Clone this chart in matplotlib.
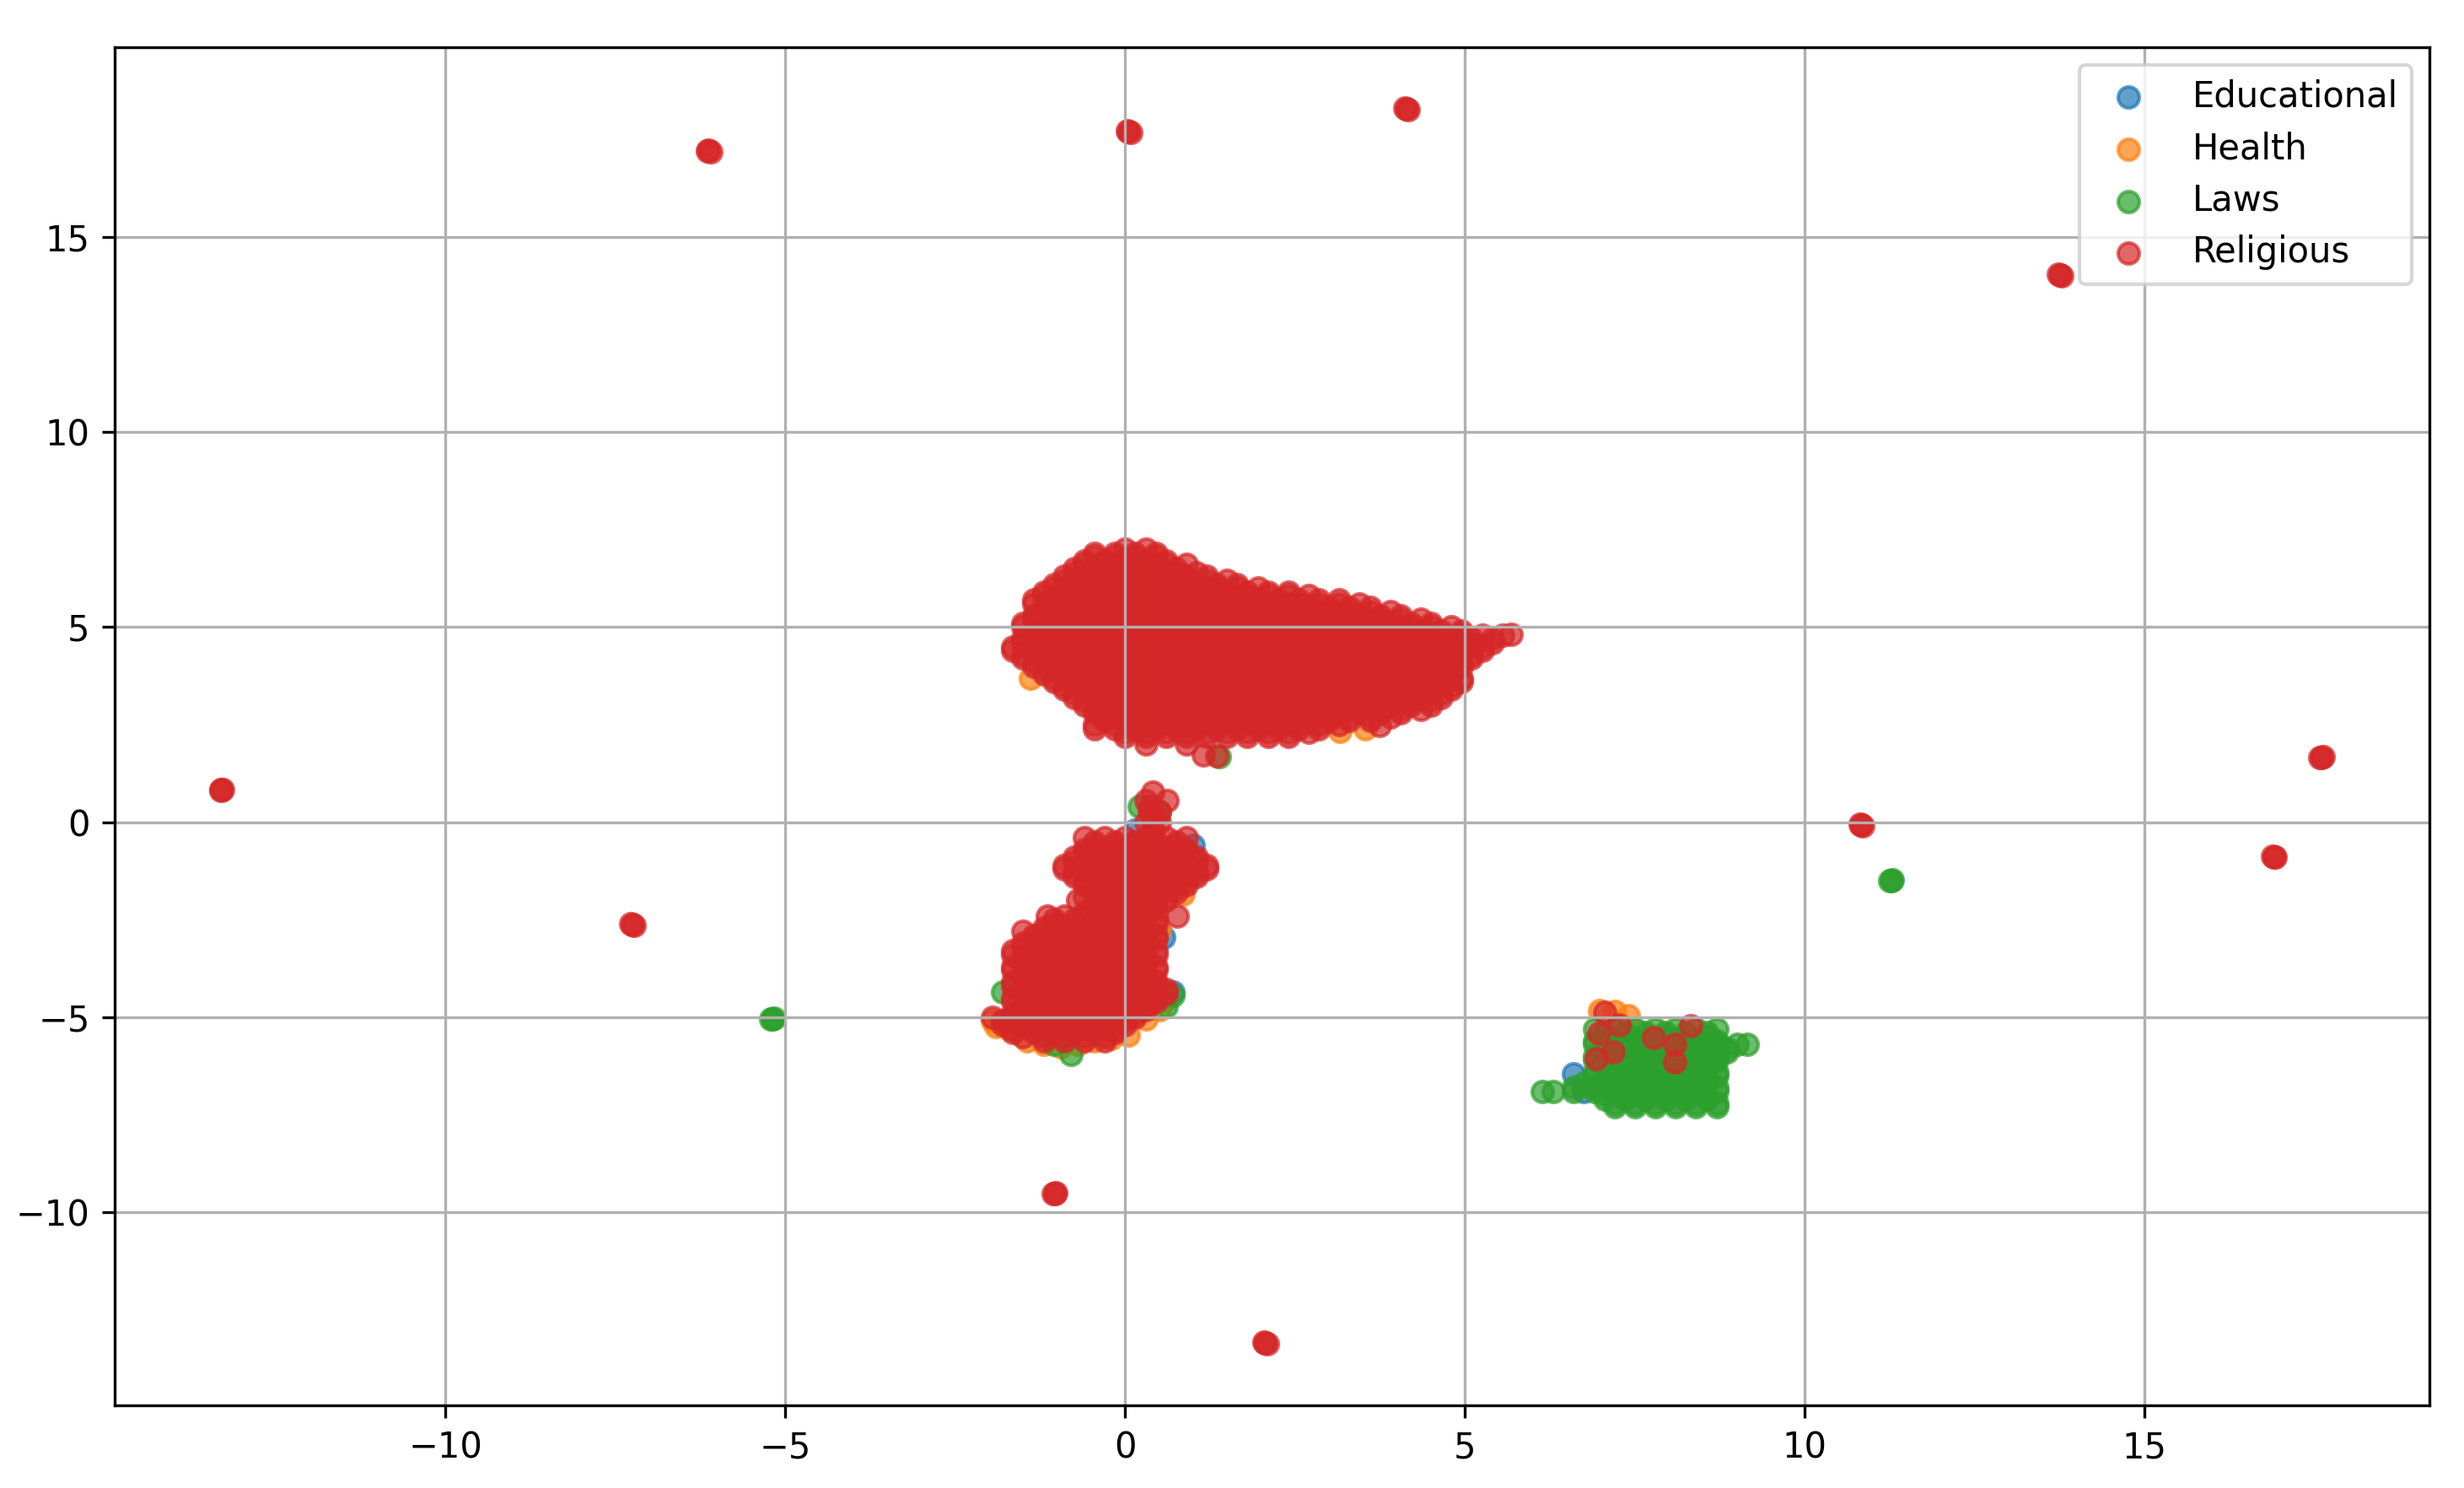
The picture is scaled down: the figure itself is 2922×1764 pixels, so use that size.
import numpy as np
import matplotlib
matplotlib.use("Agg")
import matplotlib.pyplot as plt

categories = ["Educational", "Health", "Laws", "Religious"]
colors = ["#1f77b4", "#ff7f0e", "#2ca02c", "#d62728"]

# ---------------- Religious: main upper cluster (rows: y, x-values) ----------------
religious_main_rows = [
    (7.0, [0.0, 0.3]),
    (6.9, [-0.45, -0.15, 0.15, 0.45]),
    (6.8, [-0.45, -0.15, 0.15, 0.45]),
    (6.7, [-0.6, -0.3, 0.0, 0.3, 0.6]),
    (6.6, [-0.6, -0.3, 0.0, 0.3, 0.6, 0.9]),
    (6.5, [-0.75, -0.45, -0.15, 0.15, 0.45, 0.75]),
    (6.4, [-0.75, -0.45, -0.15, 0.15, 0.45, 0.75, 1.05]),
    (6.3, [-0.9, -0.6, -0.3, 0.0, 0.3, 0.6, 0.9, 1.2]),
    (6.2, [-0.9, -0.6, -0.3, 0.0, 0.3, 0.6, 0.9, 1.2, 1.5]),
    (6.1, [-1.05, -0.75, -0.45, -0.15, 0.15, 0.45, 0.75, 1.05, 1.35, 1.65]),
    (6.0, [-1.05, -0.75, -0.45, -0.15, 0.15, 0.45, 0.75, 1.05, 1.35, 1.65, 1.95]),
    (5.9, [-1.2, -0.9, -0.6, -0.3, 0.0, 0.3, 0.6, 0.9, 1.2, 1.5, 1.8, 2.1, 2.4]),
    (5.8, [-1.2, -0.9, -0.6, -0.3, 0.0, 0.3, 0.6, 0.9, 1.2, 1.5, 1.8, 2.1, 2.4, 2.7]),
    (5.7, [-1.35, -1.05, -0.75, -0.45, -0.15, 0.15, 0.45, 0.75, 1.05, 1.35, 1.65, 1.95,
           2.25, 2.55, 2.85, 3.15]),
    (5.6, [-1.35, -1.05, -0.75, -0.45, -0.15, 0.15, 0.45, 0.75, 1.05, 1.35, 1.65, 1.95,
           2.25, 2.55, 2.85, 3.15, 3.45]),
    (5.5, [-1.2, -0.9, -0.6, -0.3, 0.0, 0.3, 0.6, 0.9, 1.2, 1.5, 1.8, 2.1, 2.4, 2.7,
           3.0, 3.3, 3.6]),
    (5.4, [-1.2, -0.9, -0.6, -0.3, 0.0, 0.3, 0.6, 0.9, 1.2, 1.5, 1.8, 2.1, 2.4, 2.7,
           3.0, 3.3, 3.6, 3.9]),
    (5.3, [-1.35, -1.05, -0.75, -0.45, -0.15, 0.15, 0.45, 0.75, 1.05, 1.35, 1.65, 1.95,
           2.25, 2.55, 2.85, 3.15, 3.45, 3.75, 4.05]),
    (5.2, [-1.35, -1.05, -0.75, -0.45, -0.15, 0.15, 0.45, 0.75, 1.05, 1.35, 1.65, 1.95,
           2.25, 2.55, 2.85, 3.15, 3.45, 3.75, 4.05, 4.35]),
    (5.1, [-1.5, -1.2, -0.9, -0.6, -0.3, 0.0, 0.3, 0.6, 0.9, 1.2, 1.5, 1.8, 2.1, 2.4,
           2.7, 3.0, 3.3, 3.6, 3.9, 4.2, 4.5]),
    (5.0, [-1.5, -1.2, -0.9, -0.6, -0.3, 0.0, 0.3, 0.6, 0.9, 1.2, 1.5, 1.8, 2.1, 2.4,
           2.7, 3.0, 3.3, 3.6, 3.9, 4.2, 4.5, 4.8]),
    (4.9, [-1.35, -1.05, -0.75, -0.45, -0.15, 0.15, 0.45, 0.75, 1.05, 1.35, 1.65, 1.95,
           2.25, 2.55, 2.85, 3.15, 3.45, 3.75, 4.05, 4.35, 4.65, 4.95]),
    (4.8, [-1.35, -1.05, -0.75, -0.45, -0.15, 0.15, 0.45, 0.75, 1.05, 1.35, 1.65, 1.95,
           2.25, 2.55, 2.85, 3.15, 3.45, 3.75, 4.05, 4.35, 4.65, 4.95, 5.25, 5.55]),
    (4.7, [-1.5, -1.2, -0.9, -0.6, -0.3, 0.0, 0.3, 0.6, 0.9, 1.2, 1.5, 1.8, 2.1, 2.4,
           2.7, 3.0, 3.3, 3.6, 3.9, 4.2, 4.5, 4.8, 5.1, 5.4]),
    (4.6, [-1.5, -1.2, -0.9, -0.6, -0.3, 0.0, 0.3, 0.6, 0.9, 1.2, 1.5, 1.8, 2.1, 2.4,
           2.7, 3.0, 3.3, 3.6, 3.9, 4.2, 4.5, 4.8, 5.1, 5.4]),
    (4.5, [-1.65, -1.35, -1.05, -0.75, -0.45, -0.15, 0.15, 0.45, 0.75, 1.05, 1.35, 1.65,
           1.95, 2.25, 2.55, 2.85, 3.15, 3.45, 3.75, 4.05, 4.35, 4.65, 4.95, 5.25]),
    (4.4, [-1.65, -1.35, -1.05, -0.75, -0.45, -0.15, 0.15, 0.45, 0.75, 1.05, 1.35, 1.65,
           1.95, 2.25, 2.55, 2.85, 3.15, 3.45, 3.75, 4.05, 4.35, 4.65, 4.95, 5.25]),
    (4.3, [-1.5, -1.2, -0.9, -0.6, -0.3, 0.0, 0.3, 0.6, 0.9, 1.2, 1.5, 1.8, 2.1, 2.4,
           2.7, 3.0, 3.3, 3.6, 3.9, 4.2, 4.5, 4.8, 5.1]),
    (4.2, [-1.5, -1.2, -0.9, -0.6, -0.3, 0.0, 0.3, 0.6, 0.9, 1.2, 1.5, 1.8, 2.1, 2.4,
           2.7, 3.0, 3.3, 3.6, 3.9, 4.2, 4.5, 4.8, 5.1]),
    (4.1, [-1.35, -1.05, -0.75, -0.45, -0.15, 0.15, 0.45, 0.75, 1.05, 1.35, 1.65, 1.95,
           2.25, 2.55, 2.85, 3.15, 3.45, 3.75, 4.05, 4.35, 4.65, 4.95]),
    (4.0, [-1.35, -1.05, -0.75, -0.45, -0.15, 0.15, 0.45, 0.75, 1.05, 1.35, 1.65, 1.95,
           2.25, 2.55, 2.85, 3.15, 3.45, 3.75, 4.05, 4.35, 4.65, 4.95]),
    (3.9, [-1.2, -0.9, -0.6, -0.3, 0.0, 0.3, 0.6, 0.9, 1.2, 1.5, 1.8, 2.1, 2.4, 2.7,
           3.0, 3.3, 3.6, 3.9, 4.2, 4.5, 4.8]),
    (3.8, [-1.2, -0.9, -0.6, -0.3, 0.0, 0.3, 0.6, 0.9, 1.2, 1.5, 1.8, 2.1, 2.4, 2.7,
           3.0, 3.3, 3.6, 3.9, 4.2, 4.5, 4.8]),
    (3.7, [-1.05, -0.75, -0.45, -0.15, 0.15, 0.45, 0.75, 1.05, 1.35, 1.65, 1.95, 2.25,
           2.55, 2.85, 3.15, 3.45, 3.75, 4.05, 4.35, 4.65, 4.95]),
    (3.6, [-1.05, -0.75, -0.45, -0.15, 0.15, 0.45, 0.75, 1.05, 1.35, 1.65, 1.95, 2.25,
           2.55, 2.85, 3.15, 3.45, 3.75, 4.05, 4.35, 4.65, 4.95]),
    (3.5, [-0.9, -0.6, -0.3, 0.0, 0.3, 0.6, 0.9, 1.2, 1.5, 1.8, 2.1, 2.4, 2.7, 3.0,
           3.3, 3.6, 3.9, 4.2, 4.5, 4.8]),
    (3.4, [-0.9, -0.6, -0.3, 0.0, 0.3, 0.6, 0.9, 1.2, 1.5, 1.8, 2.1, 2.4, 2.7, 3.0,
           3.3, 3.6, 3.9, 4.2, 4.5, 4.8]),
    (3.3, [-0.75, -0.45, -0.15, 0.15, 0.45, 0.75, 1.05, 1.35, 1.65, 1.95, 2.25, 2.55,
           2.85, 3.15, 3.45, 3.75, 4.05, 4.35, 4.65]),
    (3.2, [-0.75, -0.45, -0.15, 0.15, 0.45, 0.75, 1.05, 1.35, 1.65, 1.95, 2.25, 2.55,
           2.85, 3.15, 3.45, 3.75, 4.05, 4.35, 4.65]),
    (3.1, [-0.6, -0.3, 0.0, 0.3, 0.6, 0.9, 1.2, 1.5, 1.8, 2.1, 2.4, 2.7, 3.0, 3.3,
           3.6, 3.9, 4.2, 4.5]),
    (3.0, [-0.6, -0.3, 0.0, 0.3, 0.6, 0.9, 1.2, 1.5, 1.8, 2.1, 2.4, 2.7, 3.0, 3.3,
           3.6, 3.9, 4.2, 4.5]),
    (2.9, [-0.45, -0.15, 0.15, 0.45, 0.75, 1.05, 1.35, 1.65, 1.95, 2.25, 2.55, 2.85,
           3.15, 3.45, 3.75, 4.05, 4.35]),
    (2.8, [-0.45, -0.15, 0.15, 0.45, 0.75, 1.05, 1.35, 1.65, 1.95, 2.25, 2.55, 2.85,
           3.15, 3.45, 3.75, 4.05]),
    (2.7, [-0.3, 0.0, 0.3, 0.6, 0.9, 1.2, 1.5, 1.8, 2.1, 2.4, 2.7, 3.0, 3.3, 3.6, 3.9]),
    (2.6, [-0.3, 0.0, 0.3, 0.6, 0.9, 1.2, 1.5, 1.8, 2.1, 2.4, 2.7, 3.0, 3.3, 3.6]),
    (2.5, [-0.45, -0.15, 0.15, 0.45, 0.75, 1.05, 1.35, 1.65, 1.95, 2.25, 2.55, 2.85, 3.15]),
    (2.4, [-0.45, -0.15, 0.15, 0.45, 0.75, 1.05, 1.35, 1.65, 1.95, 2.25, 2.55, 2.85]),
    (2.3, [0.0, 0.3, 0.6, 0.9, 1.2, 1.5, 1.8, 2.1, 2.4, 2.7]),
    (2.2, [0.0, 0.3, 0.6, 0.9, 1.2, 1.5, 1.8, 2.1, 2.4]),
]
religious_main_extra_x = [0.3, 0.9, 1.15, 1.35, 5.68, 3.74]
religious_main_extra_y = [2.0, 2.0, 1.72, 1.7, 4.82, 2.47]

# ---------------- Religious: lower cluster ----------------
religious_lower_rows = [
    (0.78, [0.4]),
    (0.55, [0.3, 0.62]),
    (0.4, [0.35]),
    (0.27, [0.35, 0.5]),
    (0.1, [0.4]),
    (0.0, [0.3, 0.5]),
    (-0.2, [0.4]),
    (-0.4, [-0.6, -0.3, 0.0, 0.3, 0.6, 0.9]),
    (-0.5, [-0.45, -0.15, 0.15, 0.45, 0.75]),
    (-0.6, [-0.45, -0.15, 0.15, 0.45, 0.75]),
    (-0.7, [-0.6, -0.3, 0.0, 0.3, 0.6, 0.9]),
    (-0.8, [-0.6, -0.3, 0.0, 0.3, 0.6, 0.9]),
    (-0.9, [-0.75, -0.45, -0.15, 0.15, 0.45, 0.75, 1.05]),
    (-1.0, [-0.75, -0.45, -0.15, 0.15, 0.45, 0.75, 1.05]),
    (-1.1, [-0.9, -0.6, -0.3, 0.0, 0.3, 0.6, 0.9, 1.2]),
    (-1.2, [-0.9, -0.6, -0.3, 0.0, 0.3, 0.6, 0.9, 1.2]),
    (-1.3, [-0.75, -0.45, -0.15, 0.15, 0.45, 0.75, 1.05]),
    (-1.4, [-0.75, -0.45, -0.15, 0.15, 0.45, 0.75, 1.05]),
    (-1.5, [-0.6, -0.3, 0.0, 0.3, 0.6, 0.9]),
    (-1.6, [-0.6, -0.3, 0.0, 0.3, 0.6, 0.9]),
    (-1.7, [-0.45, -0.15, 0.15, 0.45, 0.75]),
    (-1.8, [-0.45, -0.15, 0.15, 0.45, 0.75]),
    (-1.9, [-0.6, -0.3, 0.0, 0.3, 0.6]),
    (-2.0, [-0.7, -0.3, 0.0, 0.3, 0.6]),
    (-2.1, [-0.45, -0.15, 0.15, 0.45]),
    (-2.2, [-0.45, -0.15, 0.15, 0.45]),
    (-2.3, [-0.6, -0.3, 0.0, 0.3]),
    (-2.4, [-1.15, -0.9, -0.6, -0.3, 0.0, 0.3, 0.77]),
    (-2.5, [-1.05, -0.75, -0.45, -0.15, 0.15, 0.45]),
    (-2.6, [-1.05, -0.75, -0.45, -0.15, 0.15, 0.45]),
    (-2.7, [-1.2, -0.9, -0.6, -0.3, 0.0, 0.3]),
    (-2.8, [-1.5, -1.2, -0.9, -0.6, -0.3, 0.0, 0.3]),
    (-2.9, [-1.35, -1.05, -0.75, -0.45, -0.15, 0.15, 0.45]),
    (-3.0, [-1.35, -1.05, -0.75, -0.45, -0.15, 0.15, 0.45]),
    (-3.1, [-1.5, -1.2, -0.9, -0.6, -0.3, 0.0, 0.3]),
    (-3.2, [-1.5, -1.2, -0.9, -0.6, -0.3, 0.0, 0.3]),
    (-3.3, [-1.65, -1.35, -1.05, -0.75, -0.45, -0.15, 0.15, 0.45]),
    (-3.4, [-1.65, -1.35, -1.05, -0.75, -0.45, -0.15, 0.15, 0.45]),
    (-3.5, [-1.5, -1.2, -0.9, -0.6, -0.3, 0.0, 0.3]),
    (-3.6, [-1.5, -1.2, -0.9, -0.6, -0.3, 0.0, 0.3]),
    (-3.7, [-1.65, -1.35, -1.05, -0.75, -0.45, -0.15, 0.15, 0.45]),
    (-3.8, [-1.65, -1.35, -1.05, -0.75, -0.45, -0.15, 0.15, 0.45]),
    (-3.9, [-1.5, -1.2, -0.9, -0.6, -0.3, 0.0, 0.3]),
    (-4.0, [-1.5, -1.2, -0.9, -0.6, -0.3, 0.0, 0.3]),
    (-4.1, [-1.65, -1.35, -1.05, -0.75, -0.45, -0.15, 0.15, 0.45]),
    (-4.2, [-1.65, -1.35, -1.05, -0.75, -0.45, -0.15, 0.15, 0.45]),
    (-4.3, [-1.5, -1.2, -0.9, -0.6, -0.3, 0.0, 0.3, 0.6]),
    (-4.4, [-1.5, -1.2, -0.9, -0.6, -0.3, 0.0, 0.3, 0.6]),
    (-4.5, [-1.65, -1.35, -1.05, -0.75, -0.45, -0.15, 0.15, 0.45]),
    (-4.6, [-1.65, -1.35, -1.05, -0.75, -0.45, -0.15, 0.15, 0.45]),
    (-4.7, [-1.5, -1.2, -0.9, -0.6, -0.3, 0.0, 0.3]),
    (-4.8, [-1.5, -1.2, -0.9, -0.6, -0.3, 0.0, 0.3]),
    (-4.9, [-1.65, -1.35, -1.05, -0.75, -0.45, -0.15, 0.15]),
    (-5.0, [-1.95, -1.65, -1.35, -1.05, -0.75, -0.45, -0.15, 0.15]),
    (-5.1, [-1.8, -1.5, -1.2, -0.9, -0.6, -0.3, 0.0]),
    (-5.2, [-1.8, -1.5, -1.2, -0.9, -0.6, -0.3, 0.0]),
    (-5.3, [-1.65, -1.35, -1.05, -0.75, -0.45, -0.15]),
    (-5.4, [-1.65, -1.35, -1.05, -0.75, -0.45, -0.15]),
    (-5.5, [-1.5, -1.2, -0.9, -0.6, -0.3]),
    (-5.6, [-1.2, -0.9, -0.6, -0.3]),
]

# ---------------- Religious: points inside the Laws cluster ----------------
religious_in_laws_x = [7.05, 7.26, 6.97, 7.18, 6.93, 7.77, 8.08, 8.09, 8.32]
religious_in_laws_y = [-4.87, -5.19, -5.41, -5.88, -6.06, -5.52, -5.70, -6.15, -5.23]

# ---------------- Religious: isolated points ----------------
religious_out_x = [-6.13, -6.10, -6.15, 0.05, 0.08, 0.03, 4.14, 4.17, 4.12,
                   13.75, 13.78, 13.73, -13.31, -13.28, -13.30, -7.25, -7.27, -7.23,
                   10.83, 10.85, 10.81, 16.90, 16.88, 16.92, 17.60, 17.62, 17.58,
                   -1.04, -1.02, -1.06, 2.06, 2.09, 2.04]
religious_out_y = [17.22, 17.18, 17.20, 17.70, 17.68, 17.72, 18.30, 18.27, 18.32,
                   14.03, 14.00, 14.05, 0.81, 0.84, 0.83, -2.62, -2.60, -2.64,
                   -0.08, -0.10, -0.06, -0.89, -0.87, -0.90, 1.65, 1.68, 1.66,
                   -9.52, -9.50, -9.53, -13.35, -13.38, -13.33]

# ---------------- Laws: right cluster ----------------
laws_cluster_rows = [
    (-5.3, [6.9, 7.2, 7.5, 7.8, 8.1, 8.4, 8.7]),
    (-5.4, [7.05, 7.35, 7.65, 7.95, 8.25, 8.55]),
    (-5.5, [7.05, 7.35, 7.65, 7.95, 8.25, 8.55]),
    (-5.6, [6.9, 7.2, 7.5, 7.8, 8.1, 8.4, 8.7]),
    (-5.7, [6.9, 7.2, 7.5, 7.8, 8.1, 8.4, 8.7, 9.0, 9.15]),
    (-5.8, [7.05, 7.35, 7.65, 7.95, 8.25, 8.55, 8.85]),
    (-5.9, [7.05, 7.35, 7.65, 7.95, 8.25, 8.55, 8.85]),
    (-6.0, [6.9, 7.2, 7.5, 7.8, 8.1, 8.4, 8.7]),
    (-6.1, [6.9, 7.2, 7.5, 7.8, 8.1, 8.4, 8.7]),
    (-6.2, [7.05, 7.35, 7.65, 7.95, 8.25, 8.55]),
    (-6.3, [7.05, 7.35, 7.65, 7.95, 8.25, 8.55]),
    (-6.4, [6.9, 7.2, 7.5, 7.8, 8.1, 8.4, 8.7]),
    (-6.5, [6.9, 7.2, 7.5, 7.8, 8.1, 8.4, 8.7]),
    (-6.6, [7.05, 7.35, 7.65, 7.95, 8.25, 8.55]),
    (-6.7, [6.75, 7.05, 7.35, 7.65, 7.95, 8.25, 8.55]),
    (-6.8, [6.6, 6.9, 7.2, 7.5, 7.8, 8.1, 8.4, 8.7]),
    (-6.9, [6.14, 6.3, 6.6, 6.9, 7.2, 7.5, 7.8, 8.1, 8.4, 8.7]),
    (-7.0, [7.05, 7.35, 7.65, 7.95, 8.25, 8.55]),
    (-7.1, [7.05, 7.35, 7.65, 7.95, 8.25, 8.55]),
    (-7.2, [7.2, 7.5, 7.8, 8.1, 8.4, 8.7]),
    (-7.3, [7.2, 7.5, 7.8, 8.1, 8.4, 8.7]),
]
laws_other_x = [-0.8, 0.7, 0.6, -1.05, -1.8, -0.65, 0.95, 0.5, 0.2, 1.38,
                -5.19, -5.17, -5.21, 11.27, 11.29, 11.25]
laws_other_y = [-5.95, -4.45, -4.72, -5.7, -4.35, -2.75, -1.35, 0.25, 0.4, 1.68,
                -5.04, -5.02, -5.05, -1.49, -1.47, -1.50]

# ---------------- Health ----------------
health_x = [-1.95, -1.9, -1.7, -1.45, -1.2, -0.95, -0.7, -0.45, -0.2, 0.05, 0.3,
            0.5, 0.6, 0.5, 0.85, -1.4, 3.16, 3.53, 6.98, 7.2, 7.4]
health_y = [-5.1, -5.25, -5.3, -5.6, -5.7, -5.75, -5.7, -5.6, -5.55, -5.45, -5.05,
            -4.8, -4.55, -2.75, -1.85, 3.7, 2.33, 2.4, -4.83, -4.85, -4.95]

# ---------------- Educational ----------------
educational_x = [0.57, 0.15, 1.0, 0.7, 6.6, 6.75]
educational_y = [-2.95, -0.2, -0.6, -4.35, -6.45, -6.9]


def rows_to_xy(rows):
    xs = [x for y, row in rows for x in row]
    ys = [y for y, row in rows for _ in row]
    return xs, ys


rmx, rmy = rows_to_xy(religious_main_rows)
rlx, rly = rows_to_xy(religious_lower_rows)
lcx, lcy = rows_to_xy(laws_cluster_rows)

series = {
    "Educational": (educational_x, educational_y),
    "Health": (health_x, health_y),
    "Laws": (lcx + laws_other_x, lcy + laws_other_y),
    "Religious": (rmx + religious_main_extra_x + rlx + religious_in_laws_x + religious_out_x,
                  rmy + religious_main_extra_y + rly + religious_in_laws_y + religious_out_y),
}

fig = plt.figure(figsize=(9.74, 5.88), dpi=300)
ax = fig.add_axes([0.0465, 0.0556, 0.9395, 0.9127])

for cat, col in zip(categories, colors):
    xs, ys = series[cat]
    ax.scatter(xs, ys, color=col, alpha=0.7, label=cat)

ax.set_xlim(-14.87, 19.19)
ax.set_ylim(-14.95, 19.87)
ax.grid(True)
ax.legend(loc="upper right", labelspacing=0.47)

fig.savefig("out.png", dpi=300)
